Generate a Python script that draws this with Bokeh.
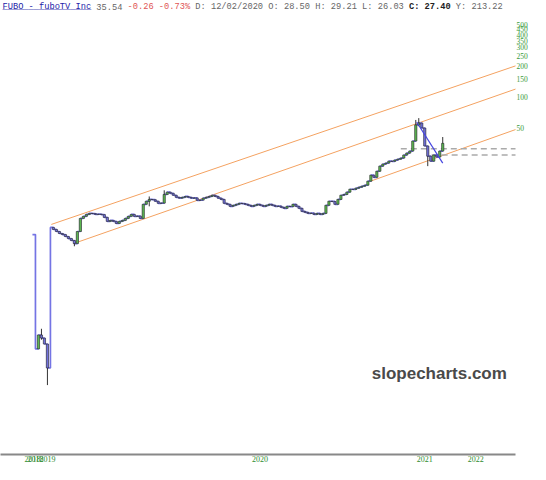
from bokeh.plotting import figure
from bokeh.models import Range1d, FixedTicker, PrintfTickFormatter, Label, ColumnDataSource
from bokeh.embed import file_html
from bokeh.resources import INLINE

# ---------------- data ----------------
pre_close = [4.67, 0.367, 0.50, 0.467, 0.409, 0.240]
main_close = [
    5.47, 5.23, 5.00, 4.78, 4.67, 4.47, 4.27, 4.09, 3.82, 5.00,
    6.69, 7.00, 7.31, 7.48, 7.45, 7.31, 7.35, 7.28, 6.84, 6.26,
    6.40, 6.26, 5.98, 6.26, 6.40, 6.69, 7.00, 7.31, 7.00, 7.05,
    6.69, 9.15, 9.80, 10.2, 10.15, 9.80, 9.36, 9.40, 11.4, 12.0,
    11.7, 11.2, 10.7, 10.5, 10.7, 10.9, 10.7, 10.5, 10.55, 10.0,
    10.05, 10.5, 10.7, 10.9, 11.2, 10.9, 10.5, 10.2, 9.36, 9.15,
    8.75, 8.95, 9.15, 9.36, 9.30, 9.15, 8.95, 8.75, 8.95, 9.15,
    8.95, 8.75, 8.95, 9.15, 8.95, 8.75, 8.80, 8.56, 8.37, 8.75,
    8.70, 9.15, 8.75, 8.37, 7.82, 7.65, 7.48, 7.52, 7.31, 7.48,
    7.31, 7.48, 8.95, 9.80, 9.75, 9.15, 10.2, 11.2, 11.4, 12.0,
    12.8, 12.75, 13.1, 13.4, 13.7, 14.0, 15.3, 17.5, 16.7, 19.1,
    21.4, 22.4, 22.9, 23.9, 23.8, 24.5, 25.0, 25.6, 27.4, 28.6,
    29.9, 37.4, 53.5, 55.9, 50.0, 33.5, 26.7, 23.9, 27.4, 26.2,
    29.9, 35.54,
]
close = pre_close + main_close
bar = list(range(len(close)))
open_ = [close[0]] + close[:-1]

wick_bar = [3, 5, 14, 39, 44, 128, 129, 132, 137]
wick_high = [0.574, 0.409, 4.09, 10.9, 12.5, 59.8, 62.3, 33.5, 40.9]
wick_low = [0.45, 0.164, 3.6, 8.75, 9.36, 37.4, 52.0, 21.4, 29.9]

year_tick_bar = [0, 1, 5, 76, 131, 148]
year_tick_label = ["2018", "2018", "2019", "2020", "2021", "2022"]

price_ticks = [50, 100, 150, 200, 250, 300, 350, 400, 450, 500]

channel_start_bar = [6.3, 13.7, 112.0]
channel_start_price = [5.85, 3.82, 15.0]
channel_end_bar = [171.3, 171.3, 171.3]
channel_end_price = [250.0, 150.0, 61.2]

trend_bar = [128.3, 137.0]
trend_price = [57.2, 22.9]

level_price = [31.5, 27.4]
level_start_bar = [123.0, 133.3]
level_end_bar = [171.3, 171.3]

header_parts = [
    ("FUBO - fuboTV Inc", "#2323a8", "normal", 0),
    ("35.54", "#666666", "normal", 18),
    ("-0.26 -0.73%", "#e05555", "normal", 24),
    ("D: 12/02/2020 O: 28.50 H: 29.21 L: 26.03", "#666666", "normal", 37),
    ("C: 27.40", "#222222", "bold", 78),
    ("Y: 213.22", "#666666", "normal", 87),
]

X_LEFT = -10.67
X_RIGHT = 161.3

# ---------------- figure ----------------
p = figure(width=530, height=464,
           x_range=Range1d(X_LEFT, X_RIGHT), y_range=Range1d(0.035, 853),
           y_axis_type="log", y_axis_location="right",
           output_backend="svg", toolbar_location=None, min_border=0)
p.outline_line_color = None
p.xgrid.visible = False
p.ygrid.visible = False
p.background_fill_color = "white"

# channel lines
p.segment(x0=channel_start_bar, y0=channel_start_price, x1=channel_end_bar, y1=channel_end_price,
          line_color="#f4a261", line_width=1)
# horizontal levels
p.segment(x0=level_start_bar, y0=level_price, x1=level_end_bar, y1=level_price,
          line_color="#aaaaaa", line_width=1.5, line_dash="6 4")

# close step line
p.step(bar, close, mode="after", line_color="#7474e4", line_width=1.7)

# wicks
p.segment(x0=wick_bar, y0=wick_low, x1=wick_bar, y1=wick_high, line_color="#333333", line_width=1)

# candle bodies (open = previous close)
cb = [i for i in bar if i not in (0, 1, 6)]
src = ColumnDataSource(dict(
    x=cb,
    top=[max(open_[i], close[i]) for i in cb],
    bottom=[min(open_[i], close[i]) for i in cb],
    color=["#5cb850" if close[i] >= open_[i] else "#7070dc" for i in cb],
))
p.vbar(x="x", width=0.75, top="top", bottom="bottom", fill_color="color",
       line_color="#2a2a2a", line_width=0.6, source=src)

# trend line
p.line(trend_bar, trend_price, line_color="#4646e0", line_width=1.2)

# axes
xa = p.xaxis[0]
xa.ticker = FixedTicker(ticks=year_tick_bar)
xa.major_label_overrides = {t: l for t, l in zip(year_tick_bar, year_tick_label)}
xa.axis_line_color = "#888888"
xa.axis_line_width = 2
xa.major_tick_line_color = None
xa.minor_tick_line_color = None
xa.major_tick_in = 0
xa.major_tick_out = 0
xa.major_label_standoff = 1
xa.major_label_text_color = "#2e8b2e"
xa.major_label_text_font = "Liberation Serif"
xa.major_label_text_font_size = "8px"

ya = p.yaxis[0]
ya.ticker = FixedTicker(ticks=price_ticks)
ya.formatter = PrintfTickFormatter(format="%d")
ya.axis_line_color = None
ya.major_tick_line_color = None
ya.minor_tick_line_color = None
ya.major_tick_in = 0
ya.major_tick_out = 0
ya.major_label_standoff = 1
ya.major_label_text_color = "#3a9a3a"
ya.major_label_text_font = "Liberation Serif"
ya.major_label_text_font_size = "7.5px"

# header
for text, color, style, off in header_parts:
    p.add_layout(Label(x=X_LEFT + (2 + off * 5.22) / 3.0, y=746, text=text, text_color=color,
                       text_font="Liberation Mono", text_font_size="8.7px",
                       text_font_style=style, text_baseline="middle"))
p.add_layout(Label(x=X_LEFT + 2 / 3.0, y=746, text="_" * 17, text_color="#2323a8",
                   text_font="Liberation Mono", text_font_size="8.7px", text_baseline="middle"))

# watermark
p.add_layout(Label(x=113.3, y=0.21, text="slopecharts.com", text_color="#4a4a4a",
                   text_font="Liberation Sans", text_font_size="17px", text_font_style="bold",
                   text_baseline="alphabetic"))

open("out.html", "w").write(file_html(p, INLINE))
